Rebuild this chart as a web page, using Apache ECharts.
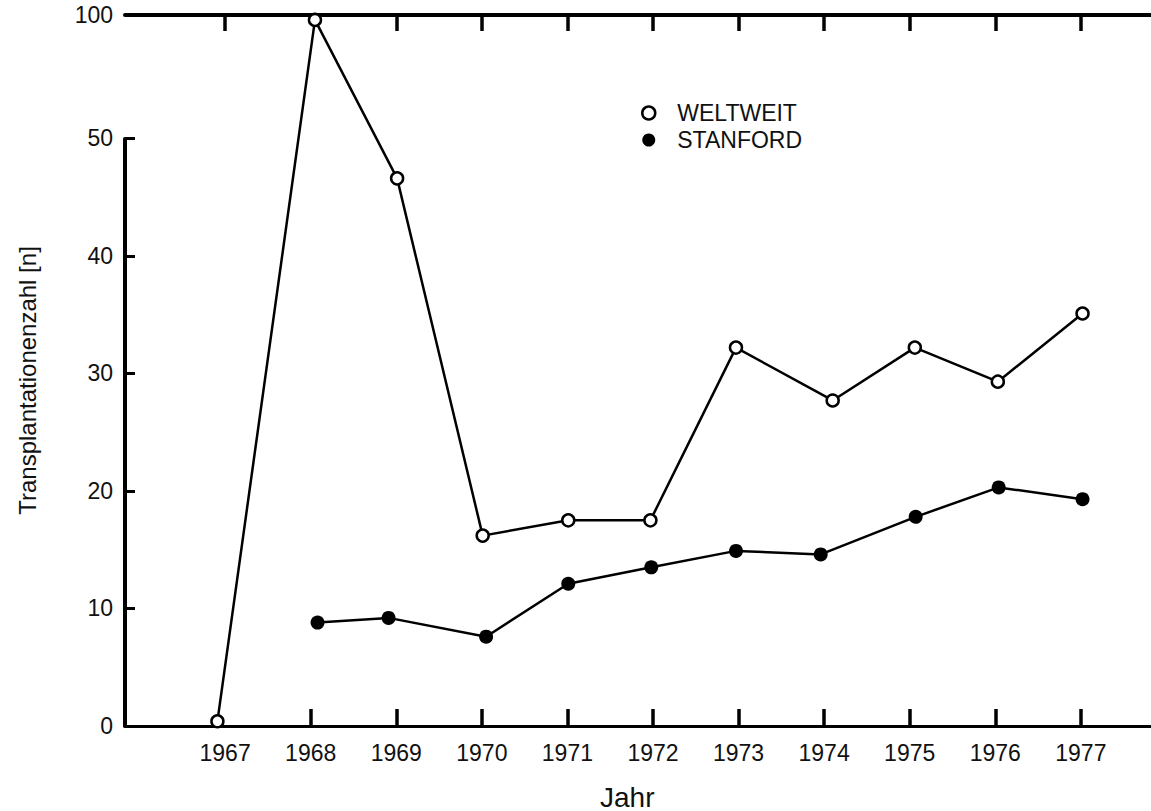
<!DOCTYPE html>
<html>
<head>
<meta charset="utf-8">
<script src="https://cdn.jsdelivr.net/npm/echarts@6/dist/echarts.min.js"></script>
<style>
  html, body { margin: 0; padding: 0; background: #fff; }
  #chart { width: 1151px; height: 811px; }
</style>
</head>
<body>
<div id="chart"></div>
<script>
// Heart transplant counts per year: worldwide vs. Stanford
const weltweitYears  = [1966.91, 1968.05, 1969.01, 1970.01, 1971.01, 1971.97, 1972.97, 1974.10, 1975.06, 1976.03, 1977.02];
const weltweitCounts = [0.4, 98, 46.6, 16.2, 17.5, 17.5, 32.2, 27.7, 32.2, 29.3, 35.1];

const stanfordYears  = [1968.08, 1968.91, 1970.05, 1971.01, 1971.98, 1972.97, 1973.96, 1975.07, 1976.04, 1977.02];
const stanfordCounts = [8.8, 9.2, 7.6, 12.1, 13.5, 14.9, 14.6, 17.8, 20.3, 19.3];

const yearLabels      = [1967, 1968, 1969, 1970, 1971, 1972, 1973, 1974, 1975, 1976, 1977];
const bottomTickYears = [1968, 1969, 1970, 1971, 1972, 1973, 1974, 1975, 1976, 1977];
const topTickYears    = [1967, 1969, 1970, 1971, 1972, 1973, 1974, 1975, 1976, 1977];

const FONT = '"Liberation Sans", Arial, Helvetica, sans-serif';
const INK = '#111';

const pairs = (xs, ys) => xs.map((x, i) => [x, ys[i]]);

const chart = echarts.init(document.getElementById('chart'), null, { renderer: 'svg' });

chart.setOption({
  backgroundColor: '#fff',
  animation: false,
  textStyle: { fontFamily: FONT, color: INK },
  title: {
    text: 'Jahr',
    left: 600,
    top: 783,
    padding: 0,
    textStyle: { fontFamily: FONT, fontSize: 28, fontWeight: 'normal', color: INK, lineHeight: 28 }
  },
  legend: {
    orient: 'vertical',
    left: 641,
    top: 101,
    padding: 0,
    itemWidth: 13,
    itemHeight: 13,
    itemGap: 3,
    icon: 'circle',
    textStyle: { fontFamily: FONT, fontSize: 23, color: INK, padding: [0, 0, 0, 17], lineHeight: 24 },
    data: [
      { name: 'WELTWEIT', itemStyle: { color: '#fff', borderColor: '#000', borderWidth: 2.5 } },
      { name: 'STANFORD', itemStyle: { color: '#000', borderColor: '#000', borderWidth: 0 } }
    ]
  },
  grid: { left: 125, top: 15, right: 0, bottom: 85, containLabel: false },
  xAxis: [
    {
      type: 'value',
      position: 'bottom',
      min: 1965.83,
      max: 1977.82,
      splitLine: { show: false },
      axisLine: { show: true, onZero: false, lineStyle: { color: '#000', width: 3 } },
      axisTick: { show: true, inside: true, length: 17, lineStyle: { color: '#000', width: 3.5 }, customValues: bottomTickYears },
      axisLabel: { show: true, margin: 15, fontSize: 23, fontFamily: FONT, color: INK, customValues: yearLabels, formatter: v => String(v) }
    },
    {
      type: 'value',
      position: 'top',
      min: 1965.83,
      max: 1977.82,
      splitLine: { show: false },
      axisLine: { show: true, onZero: false, lineStyle: { color: '#000', width: 4 } },
      axisTick: { show: true, inside: true, length: 16, lineStyle: { color: '#000', width: 3.5 }, customValues: topTickYears },
      axisLabel: { show: false }
    }
  ],
  yAxis: {
    type: 'value',
    min: 0,
    max: 100,
    interval: 10,
    breaks: [{ start: 50, end: 100, gap: 10.5 }],
    breakArea: { show: false, expandOnClick: false },
    name: 'Transplantationenzahl [n]',
    nameLocation: 'middle',
    nameGap: 86,
    nameTextStyle: { fontFamily: FONT, fontSize: 24, color: INK, padding: [0, 20, 0, 0] },
    splitLine: { show: false },
    axisLine: { show: true, lineStyle: { color: '#000', width: 4 } },
    axisTick: { show: true, inside: true, length: 10, lineStyle: { color: '#000', width: 3 } },
    axisLabel: { margin: 12, fontSize: 23, fontFamily: FONT, color: INK }
  },
  series: [
    {
      name: 'WELTWEIT',
      type: 'line',
      xAxisIndex: 0,
      data: pairs(weltweitYears, weltweitCounts),
      symbol: 'circle',
      symbolSize: 12,
      clip: false,
      lineStyle: { color: '#000', width: 2.5 },
      itemStyle: { color: '#fff', borderColor: '#000', borderWidth: 2.5 },
      z: 3
    },
    {
      name: 'STANFORD',
      type: 'line',
      xAxisIndex: 0,
      data: pairs(stanfordYears, stanfordCounts),
      symbol: 'circle',
      symbolSize: 14,
      clip: false,
      lineStyle: { color: '#000', width: 2.5 },
      itemStyle: { color: '#000', borderColor: '#000', borderWidth: 0 },
      z: 3
    }
  ]
});
</script>
</body>
</html>
